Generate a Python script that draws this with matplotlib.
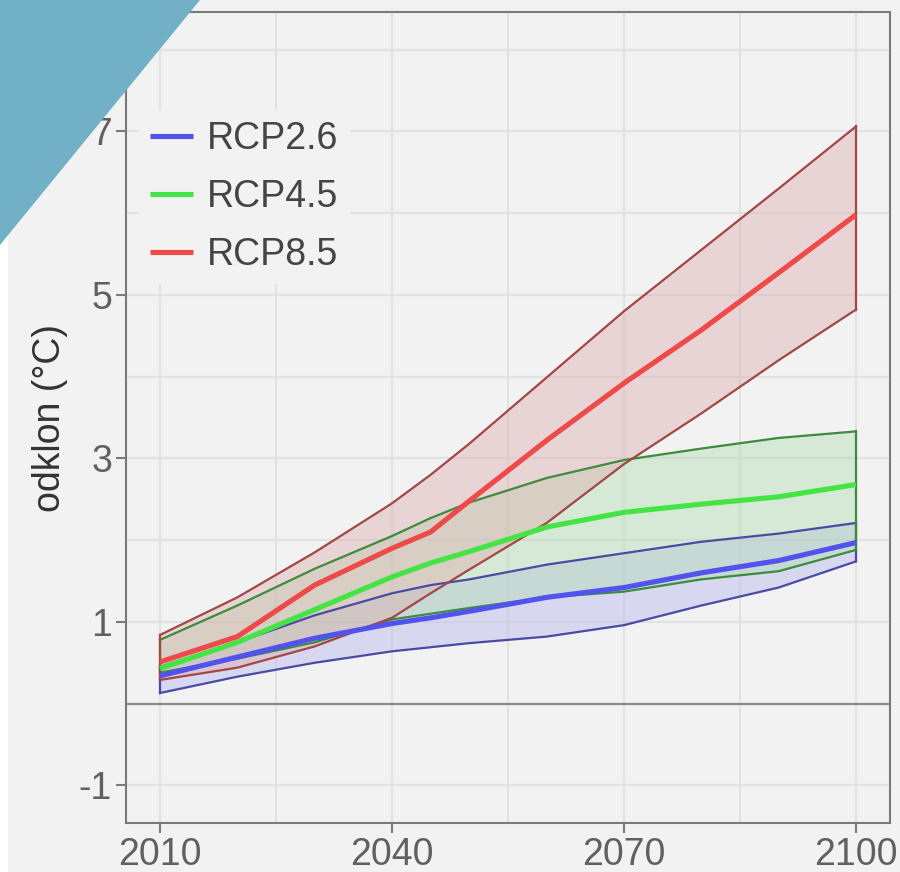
import matplotlib
matplotlib.use('Agg')
import matplotlib.pyplot as plt
from matplotlib.patches import Polygon, Rectangle

plt.rcParams['font.family'] = ['Liberation Sans', 'DejaVu Sans']
plt.rcParams['axes.unicode_minus'] = False

# Data
years = [2010, 2020, 2030, 2040, 2045, 2050, 2060, 2070, 2080, 2090, 2100]

rcp26_low = [0.13, 0.33, 0.50, 0.64, 0.69, 0.74, 0.82, 0.96, 1.20, 1.42, 1.74]
rcp26_mean = [0.34, 0.57, 0.80, 0.98, 1.05, 1.13, 1.30, 1.42, 1.60, 1.75, 1.97]
rcp26_high = [0.45, 0.75, 1.08, 1.35, 1.45, 1.52, 1.70, 1.84, 1.98, 2.08, 2.21]

rcp45_low = [0.38, 0.55, 0.75, 1.03, 1.10, 1.17, 1.30, 1.37, 1.52, 1.62, 1.88]
rcp45_mean = [0.43, 0.75, 1.15, 1.55, 1.72, 1.86, 2.16, 2.34, 2.44, 2.53, 2.68]
rcp45_high = [0.78, 1.20, 1.65, 2.05, 2.27, 2.46, 2.76, 2.98, 3.12, 3.25, 3.33]

rcp85_low = [0.29, 0.44, 0.70, 1.05, 1.35, 1.64, 2.21, 2.93, 3.55, 4.20, 4.82]
rcp85_mean = [0.51, 0.82, 1.45, 1.90, 2.10, 2.48, 3.22, 3.92, 4.57, 5.27, 5.98]
rcp85_high = [0.84, 1.30, 1.85, 2.45, 2.80, 3.18, 3.99, 4.80, 5.55, 6.30, 7.06]

scenarios = [
    ('RCP2.6', rcp26_low, rcp26_mean, rcp26_high, '#5252ee', '#4a4aa6', '#b8b8ec'),
    ('RCP4.5', rcp45_low, rcp45_mean, rcp45_high, '#44e444', '#3c8c3c', '#b4dcb4'),
    ('RCP8.5', rcp85_low, rcp85_mean, rcp85_high, '#ee4a4a', '#a24646', '#dcb0b0'),
]

bg = '#f2f2f2'
fig = plt.figure(figsize=(9, 8.72), dpi=100, facecolor=bg)
ax = fig.add_axes([126 / 900, 1 - 823 / 872, 764 / 900, 811 / 872])
ax.set_facecolor(bg)

# shaded ranges with their outlines
for name, lo, mid, hi, c_line, c_edge, c_fill in scenarios:
    ax.fill_between(years, lo, hi, facecolor=c_fill, alpha=0.45, edgecolor='none', zorder=2)
    ax.plot(years, lo, color=c_edge, lw=1.6, zorder=3)
    ax.plot(years, hi, color=c_edge, lw=1.6, zorder=3)
    ax.plot([years[0], years[0]], [lo[0], hi[0]], color=c_edge, lw=1.6, zorder=3)
    ax.plot([years[-1], years[-1]], [lo[-1], hi[-1]], color=c_edge, lw=1.6, zorder=3)

# mean lines on top
for name, lo, mid, hi, c_line, c_edge, c_fill in scenarios:
    ax.plot(years, mid, color=c_line, lw=3.7, label=name, zorder=4, solid_capstyle='butt')

ax.axhline(0, color='#8a8a8a', lw=1.6, zorder=1.5)

ax.set_xlim(2005.6, 2104.4)
ax.set_ylim(-1.46, 8.46)
ax.set_xticks([2010, 2040, 2070, 2100])
ax.set_yticks([-1, 1, 3, 5, 7])
ax.set_xticks([2025, 2055, 2085], minor=True)
ax.set_yticks([0, 2, 4, 6, 8], minor=True)
ax.grid(True, which='both', color='#e2e2e2', lw=1.6, zorder=0)
ax.set_axisbelow(True)
ax.tick_params(which='minor', length=0)
ax.tick_params(which='major', length=7, width=1.5, color='#7a7a7a',
               labelcolor='#606060', labelsize=27, pad=3)

for s in ax.spines.values():
    s.set_color('#7a7a7a')
    s.set_linewidth(1.5)

ax.set_ylabel('odklon (°C)', fontsize=27, color='#333333', labelpad=8)

leg = ax.legend(loc='upper left', bbox_to_anchor=(0.017, 0.879), fontsize=27,
                frameon=True, facecolor=bg, edgecolor='none', framealpha=1,
                handlelength=1.15, handletextpad=0.37, labelspacing=0.58,
                borderpad=0.3, borderaxespad=0.0)
for t in leg.get_texts():
    t.set_color('#444444')

# decorative corner triangle and left strip
fig.patches.append(Rectangle((0, 0), 8 / 900, 1, transform=fig.transFigure,
                             facecolor='white', edgecolor='none', zorder=9))
fig.patches.append(Polygon([(0, 1), (200 / 900, 1), (0, 1 - 245 / 872)],
                           closed=True, transform=fig.transFigure,
                           facecolor='#72b0c8', edgecolor='none', zorder=10))

fig.savefig('out.png', dpi=100, facecolor=bg)
